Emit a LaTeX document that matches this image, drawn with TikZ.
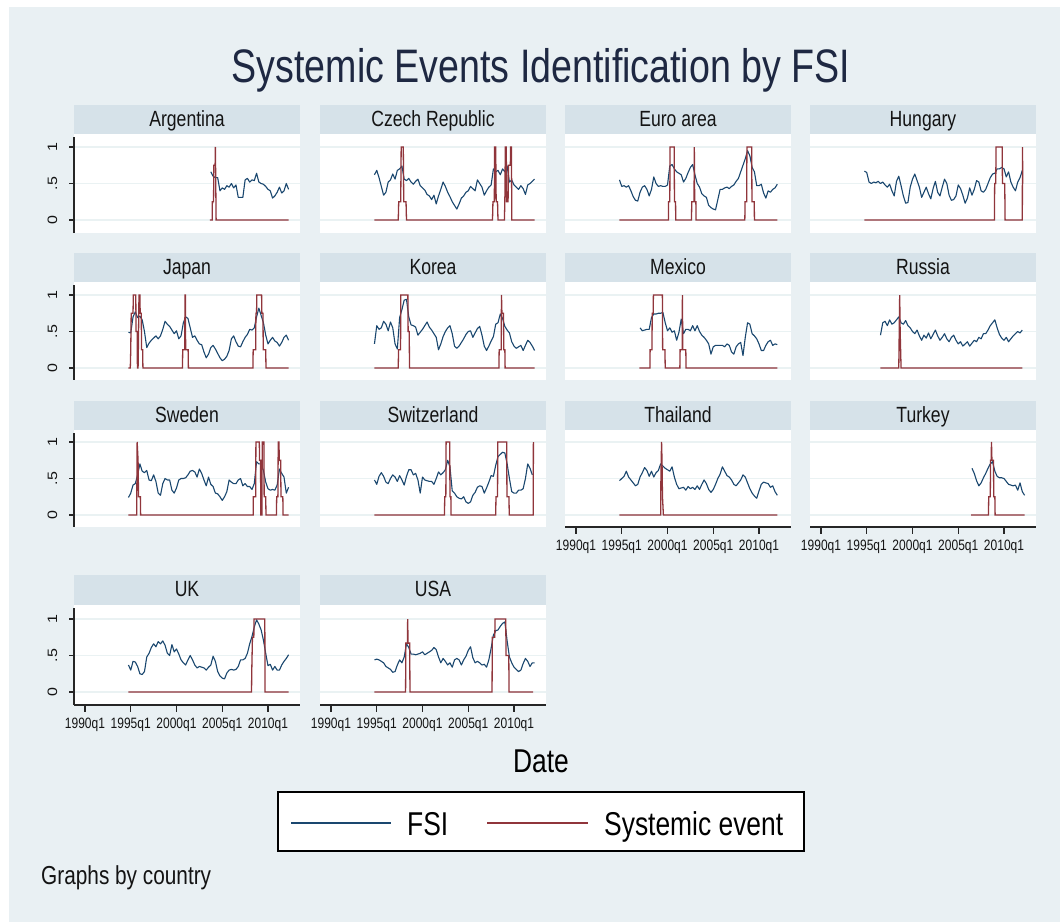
\documentclass[tikz,border=0pt]{standalone}
\usepackage{fontspec}
\setmainfont{Liberation Sans}
\usepackage{graphicx}
\definecolor{bgc}{RGB}{233,240,243}
\definecolor{stripc}{RGB}{214,226,233}
\definecolor{gridc}{RGB}{234,242,243}
\definecolor{fsic}{RGB}{26,71,111}
\definecolor{sevc}{RGB}{144,53,59}
\definecolor{titlec}{RGB}{30,40,66}
\definecolor{txtc}{RGB}{20,20,20}
\newcommand\sx[1]{\scalebox{0.8}[1]{#1}}
\newcommand\sy[1]{\scalebox{1}[0.85]{#1}}
\tikzset{
  fsiline/.style={draw=fsic, line width=1.1pt, line join=round},
  sevline/.style={draw=sevc, line width=1.3pt},
  gridline/.style={draw=gridc, line width=1.3pt},
  axisline/.style={draw=black!85, line width=1.1pt},
  hdr/.style={anchor=base, inner sep=0pt, text=txtc, font=\fontsize{22}{24}\selectfont},
  ticklab/.style={anchor=base, inner sep=0pt, text=txtc, font=\fontsize{15}{17}\selectfont},
  ylab/.style={anchor=base, rotate=90, inner sep=0pt, text=txtc, font=\fontsize{16}{18}\selectfont},
  titletxt/.style={anchor=base, inner sep=0pt, text=titlec, font=\fontsize{47}{50}\selectfont},
  bigtxt/.style={anchor=base, inner sep=0pt, text=black, font=\fontsize{33}{36}\selectfont},
  legtxt/.style={anchor=base west, inner sep=0pt, text=black, font=\fontsize{33}{36}\selectfont},
  notetxt/.style={anchor=base west, inner sep=0pt, text=txtc, font=\fontsize{26}{28}\selectfont},
}
% FSI: #1 left, #2 y of zero, #3 first date, #4 quarterly values (hundredths)
\newcommand\fsiplot[4]{%
  \gdef\pth{}%
  \foreach \vq [count=\iq from 0] in {#4}{%
    \pgfmathsetmacro\xq{#1+11+(#3-1990+\iq*0.25)*9.15}%
    \pgfmathsetmacro\yq{#2-0.73*\vq}%
    \ifnum\iq=0 \xdef\pth{(\xq,\yq)}\else\xdef\pth{\pth -- (\xq,\yq)}\fi
  }%
  \draw[fsiline] \pth;
}
% systemic event: #1 left, #2 y of zero, #3 list date/value
\newcommand\sevplot[3]{%
  \gdef\pth{}%
  \foreach \tq/\vq [count=\iq] in {#3}{%
    \pgfmathsetmacro\xq{#1+11+(\tq-1990)*9.15}%
    \pgfmathsetmacro\yq{#2-0.73*\vq}%
    \ifnum\iq=1 \xdef\pth{(\xq,\yq)}\else\xdef\pth{\pth -- (\xq,\yq)}\fi
  }%
  \draw[sevline] \pth;
}
% panel: #1 L, #2 strip top, #3 strip bottom, #4 plot bottom, #5 y zero, #6 name, #7 id
\newcommand\panelbox[7]{%
  \fill[stripc] (#1,#2) rectangle (#1+226,#3);
  \node[hdr] (h#7) at (#1+113,#2+21.5) {\sx{#6}};
  \fill[white] (#1,#3) rectangle (#1+226,#4);
  \foreach \gq in {0,50,100}{\draw[gridline] (#1,#5-0.73*\gq) -- (#1+226,#5-0.73*\gq);}
}
\newcommand\yaxisleft[5]{%
  \draw[axisline] (#1,#2+3) -- (#1,#3);
  \foreach \gq/\labq [count=\kq] in {0/0,50/.5,100/1}{%
    \draw[axisline] (#1-5,#4-0.73*\gq) -- (#1,#4-0.73*\gq);
    \node[ylab] (y#5\kq) at (#1-17,#4-0.73*\gq) {\sy{\labq}};
  }
}
\newcommand\xaxisbottom[3]{%
  \draw[axisline] (#1,#2) -- (#1+226,#2);
  \foreach \yr/\dq [count=\kq] in {1990/0,1995/5,2000/10,2005/15,2010/20}{%
    \draw[axisline] (#1+11+\dq*9.15,#2) -- ++(0,7);
    \node[ticklab] (x#3\kq) at (#1+11+\dq*9.15,#2+23.5) {\sx{\yr q1}};
  }
}
\begin{document}
\begin{tikzpicture}[x=1pt,y=-1pt]
\useasboundingbox (0,0) rectangle (1060,922);
\fill[white] (0,0) rectangle (1060,922);
\fill[bgc] (9,7) rectangle (1060,922);
\node[titletxt] (title) at (541,82) {\sx{Systemic Events Identification by FSI}};

% ---------------- Row 1
\panelbox{74}{105}{134}{233}{220}{Argentina}{arg}
\panelbox{320}{105}{134}{233}{220}{Czech Republic}{cze}
\panelbox{565}{105}{134}{233}{220}{Euro area}{eur}
\panelbox{810}{105}{134}{233}{220}{Hungary}{hun}
% ---------------- Row 2
\panelbox{74}{253}{282}{380}{368}{Japan}{jap}
\panelbox{320}{253}{282}{380}{368}{Korea}{kor}
\panelbox{565}{253}{282}{380}{368}{Mexico}{mex}
\panelbox{810}{253}{282}{380}{368}{Russia}{rus}
% ---------------- Row 3
\panelbox{74}{401}{430}{527}{515}{Sweden}{swe}
\panelbox{320}{401}{430}{527}{515}{Switzerland}{swi}
\panelbox{565}{401}{430}{527}{515}{Thailand}{tha}
\panelbox{810}{401}{430}{527}{515}{Turkey}{tur}
% ---------------- Row 4
\panelbox{74}{575}{605}{705}{692}{UK}{uk}
\panelbox{320}{575}{605}{705}{692}{USA}{usa}

% ---------------- data
% Argentina
\fsiplot{74}{220}{2003.75}{66,60,58,58,40,44,42,47,45,50,44,48,31,31,31,55,57,52,55,54,64,52,50,49,46,42,40,30,33,38,45,37,40,50,42}
\sevplot{74}{220}{2003.66/0,2003.9/0,2003.92/25,2004.05/25,2004.08/75,2004.22/75,2004.25/100,2004.33/0,2012.25/0}
% Czech Republic
\fsiplot{320}{220}{1994.75}{62, 68,58,46,34, 38,52,55,63, 56,68,70,74, 56,54,57,52, 49,53,56,47, 44,41,35,33, 28,34,22,33, 42,52,46,38, 32,25,20,15, 22,30,33,38, 40,46,43,40, 55,50,45,34, 40,45,48,70, 66,68,62,70, 66,74,52,55, 48,45,42,47, 43,35,48,50, 53,56}
\sevplot{320}{220}{1994.75/0,1997.35/0,1997.4/25,1997.62/25,1997.67/100,1997.9/100,1997.95/25,1998.2/25,1998.25/0,2007.65/0,2007.7/25,2007.85/25,2007.88/100,2008.0/100,2008.05/25,2008.2/25,2008.25/0,2008.95/0,2009.0/25,2009.05/100,2009.15/100,2009.2/25,2009.35/25,2009.4/75,2009.6/75,2009.63/100,2009.72/100,2009.76/0,2012.25/0}
% Euro area
\fsiplot{565}{220}{1994.75}{55, 46,47,45,47, 40,32,27,26, 38,45,47,42, 33,42,59,50, 46,47,46,46, 48,74,76,70, 66,64,62,52, 57,65,72,76, 62,50,45,36, 33,31,20,17, 15,14,28,42, 42,44,45,43, 46,48,53,57, 66,75,84,95, 88,72,66,47, 47,49,37,30, 40,38,42,44, 49}
\sevplot{565}{220}{1994.75/0,2000.1/0,2000.12/25,2000.25/25,2000.28/100,2000.73/100,2000.76/25,2000.88/25,2000.9/0,2002.62/0,2002.65/25,2002.9/25,2002.93/100,2002.97/25,2003.1/25,2003.12/0,2008.45/0,2008.48/25,2008.65/25,2008.68/100,2009.2/100,2009.23/25,2009.48/25,2009.5/0,2012.0/0}
% Hungary
\fsiplot{810}{220}{1994.75}{67, 65,52,50,52, 51,53,50,52, 48,45,49,40, 33,53,60,47, 33,23,24,45, 56,63,54,45, 31,38,45,36, 29,43,53,38, 33,45,56,50, 34,27,28,33, 48,43,34,23, 30,44,34,42, 54,52,40,38, 42,50,58,63, 64,70,70,72, 70,59,66,52, 45,40,52,58, 68}
\sevplot{810}{220}{1994.75/0,2008.95/0,2008.98/50,2009.1/50,2009.13/100,2009.8/100,2009.83/50,2010.08/50,2010.12/0,2012.0/0,2012.02/100,2012.05/50}
% Japan
\fsiplot{74}{368}{1994.75}{49, 48,70,77,69, 71,66,50,28, 34,38,41,44, 40,44,53,64, 60,57,52,47, 51,40,44,62, 70,68,55,42, 44,38,33,32, 22,14,19,28, 31,26,20,14, 10,12,16,24, 40,44,36,30, 29,36,42,46, 53,52,55,70, 82,72,62,45, 33,38,42,37, 35,30,35,42, 45,38}
\sevplot{74}{368}{1994.75/0,1994.95/0,1995.0/25,1995.05/75,1995.25/75,1995.28/100,1995.55/100,1995.58/50,1995.7/50,1995.73/0,1995.8/0,1995.83/25,1995.9/100,1996.0/100,1996.03/75,1996.15/75,1996.18/25,1996.3/25,1996.33/0,2000.65/0,2000.68/25,2000.9/25,2000.93/100,2000.97/100,2001.0/25,2001.27/25,2001.3/0,2008.35/0,2008.38/25,2008.65/25,2008.68/75,2008.75/75,2008.78/100,2009.3/100,2009.33/75,2009.45/75,2009.48/25,2009.75/25,2009.78/0,2012.25/0}
% Korea
\fsiplot{320}{368}{1994.75}{33, 58,53,55,64, 60,51,63,55, 33,26,69,80, 93,94,70,59, 58,56,45,49, 53,58,63,56, 52,47,42,25, 33,43,50,55, 58,47,30,27, 30,35,40,46, 50,51,42,48, 54,57,45,30, 24,30,37,43, 60,62,74,68, 57,52,48,36, 30,27,29,31, 24,31,38,35, 30,24}
\sevplot{320}{368}{1994.75/0,1997.35/0,1997.38/25,1997.6/25,1997.63/100,1998.4/100,1998.43/50,1998.55/50,1998.58/0,2008.35/0,2008.38/25,2008.6/25,2008.63/100,2008.68/75,2008.85/75,2008.88/25,2009.0/25,2009.03/0,2012.25/0}
% Mexico
\fsiplot{565}{368}{1997.0}{55,51,52,53, 53,69,74,74, 75,75,76,62, 51,55,49,51, 38,49,67,47, 53,53,51,58, 51,58,50,45, 42,38,33,19, 29,31,31,31, 31,29,33,31, 22,19,29,33, 35,17,42,62, 60,47,44,40, 33,24,24,31, 36,38,31,33, 32}
\sevplot{565}{368}{1996.93/0,1998.08/0,1998.1/25,1998.3/25,1998.33/75,1998.43/75,1998.46/100,1999.44/100,1999.47/25,1999.72/25,1999.75/0,2001.35/0,2001.38/25,2001.6/25,2001.63/100,2001.67/25,2002.0/25,2002.03/0,2012.0/0}
% Russia
\fsiplot{810}{368}{1996.5}{45,62, 64,58,66,60, 62,66,70,62, 60,65,58,55, 50,47,52,44, 38,45,41,48, 40,46,52,44, 38,42,47,40, 36,42,45,38, 33,36,30,33, 36,30,34,38, 36,42,40,47, 47,52,58,62, 66,55,46,41, 38,42,36,40, 44,47,50,48, 52}
\sevplot{810}{368}{1996.5/0,1998.5/0,1998.55/50,1998.6/100,1998.65/50,1998.75/0,2012.0/0}
% Sweden
\fsiplot{74}{515}{1994.75}{24, 30,41,43,55, 70,60,58,61, 48,47,55,46, 30,27,43,50, 48,48,34,30, 37,48,50,50, 51,55,60,61, 59,52,63,57, 48,40,52,42, 39,30,29,25, 20,25,32,48, 45,43,43,48, 50,40,43,39, 39,35,43,73, 70,70,61,45, 36,34,35,34, 41,63,57,52, 30,38}
\sevplot{74}{515}{1994.75/0,1995.65/0,1995.7/100,1995.8/75,1995.85/25,1996.05/25,1996.08/0,2008.38/0,2008.4/25,2008.65/25,2008.68/100,2009.05/100,2009.08/75,2009.18/75,2009.22/0,2009.33/0,2009.37/100,2009.55/100,2009.58/25,2009.75/25,2009.78/0,2010.92/0,2010.95/25,2011.08/25,2011.12/100,2011.2/100,2011.23/75,2011.38/75,2011.42/25,2011.62/25,2011.65/0,2012.25/0}
% Switzerland
\fsiplot{320}{515}{1994.75}{48, 42,53,58,53, 45,43,50,55, 52,46,54,48, 41,53,62,62, 55,57,48,30, 52,48,47,46, 46,42,50,59, 55,58,62,75, 66,33,30,25, 23,22,25,18, 16,18,27,31, 38,40,39,30, 37,45,54,53, 68,80,83,86, 85,70,50,32, 30,30,34,34, 36,50,70,64, 55}
\sevplot{320}{515}{1994.75/0,2002.4/0,2002.43/25,2002.55/25,2002.58/100,2002.98/100,2003.0/25,2003.1/25,2003.12/0,2008.0/0,2008.03/25,2008.2/25,2008.23/100,2009.2/100,2009.23/25,2009.45/25,2009.48/0,2012.1/0,2012.12/100}
% Thailand
\fsiplot{565}{515}{1994.75}{47, 50,53,60,52, 48,44,40,42, 52,58,65,61, 53,60,52,58, 61,70,67,64, 62,60,66,52, 42,36,37,38, 34,39,36,38, 35,40,35,42, 48,43,35,31, 35,42,50,56, 66,60,54,52, 48,42,40,44, 48,55,52,44, 36,30,26,23, 33,42,45,44, 43,38,40,32, 27}
\sevplot{565}{515}{1994.75/0,1999.25/0,1999.28/50,1999.35/100,1999.4/75,1999.45/25,1999.55/0,2012.0/0}
% Turkey
\fsiplot{810}{515}{2006.5}{64,57,47,40,44,51,57,64,70,73,60,53,51,51,50,46,42,41,40,41,34,44,32,27}
\sevplot{810}{515}{2006.4/0,2008.3/0,2008.33/25,2008.5/25,2008.53/75,2008.6/75,2008.63/100,2008.68/75,2008.85/75,2008.88/25,2009.0/25,2009.03/0,2012.25/0}
% UK
\fsiplot{74}{692}{1994.75}{37, 30,42,41,35, 25,24,28,48, 53,61,66,62, 69,66,70,64, 53,50,65,55, 59,52,44,40, 37,44,50,44, 37,33,35,34, 33,30,34,37, 49,42,28,22, 19,18,26,30, 31,30,31,35, 44,44,46,53, 66,76,89,99, 93,85,71,53, 36,38,30,35, 30,30,37,42, 46,51}
\sevplot{74}{692}{1994.75/0,2008.2/0,2008.22/25,2008.3/75,2008.45/75,2008.48/100,2009.65/100,2009.68/0,2012.25/0}
% USA
\fsiplot{320}{692}{1994.75}{44, 45,44,42,40, 35,33,31,27, 28,37,44,40, 48,66,61,52, 52,51,52,53, 55,51,53,55, 57,61,58,48, 40,46,42,37, 40,34,44,46, 44,37,44,49, 57,62,47,40, 42,40,37,38, 34,44,60,78, 84,85,90,94, 96,70,48,40, 34,31,28,30, 39,46,42,35, 40,40}
\sevplot{320}{692}{1994.75/0,1998.15/0,1998.18/67,1998.35/67,1998.38/100,1998.42/67,1998.6/67,1998.63/0,2007.6/0,2007.63/75,2007.9/75,2007.93/100,2009.1/100,2009.13/50,2009.43/50,2009.46/0,2012.1/0}

% ---------------- axes
\yaxisleft{74}{134}{233}{220}{arg}
\yaxisleft{74}{282}{380}{368}{jap}
\yaxisleft{74}{430}{527}{515}{swe}
\yaxisleft{74}{605}{705}{692}{uk}
\xaxisbottom{565}{527}{tha}
\xaxisbottom{810}{527}{tur}
\xaxisbottom{74}{705}{uk}
\xaxisbottom{320}{705}{usa}

% ---------------- axis title, legend, note
\node[bigtxt] (date) at (541,772) {\sx{Date}};
\draw[black, line width=1.2pt, fill=white] (278,792) rectangle (804,851);
\coordinate (lb1) at (291,823);
\coordinate (lb2) at (391,823);
\coordinate (lr1) at (487,823);
\coordinate (lr2) at (588,823);
\draw[fsic, line width=2pt] (lb1) -- (lb2);
\node[legtxt] (lfsi) at (407,835) {\sx{FSI}};
\draw[sevc, line width=2pt] (lr1) -- (lr2);
\node[legtxt] (lsev) at (604,835) {\sx{Systemic event}};
\node[notetxt] (note) at (41,884) {\sx{Graphs by country}};
\end{tikzpicture}
\end{document}
